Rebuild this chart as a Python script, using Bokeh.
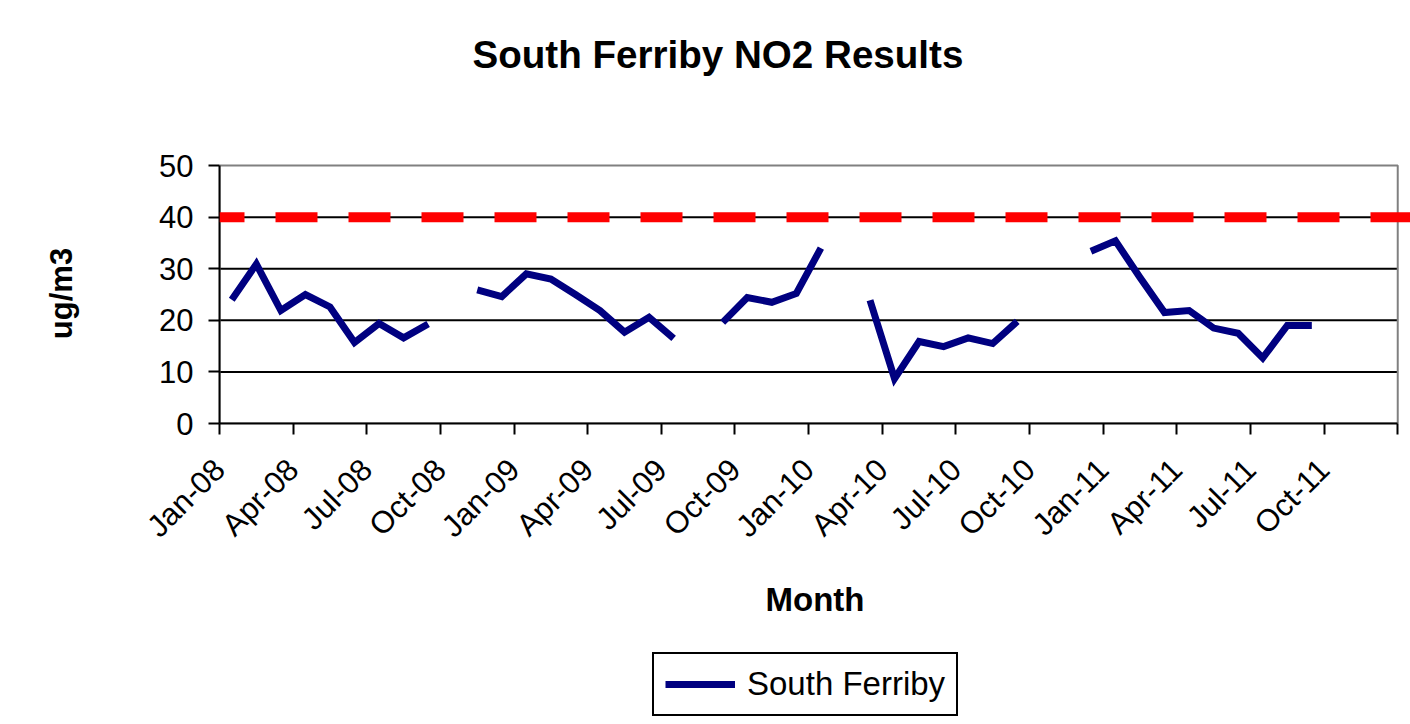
import math
from bokeh.plotting import figure
from bokeh.layouts import column
from bokeh.models import (Span, Legend, LegendItem, FixedTicker, Title, Range1d)
from bokeh.embed import file_html
from bokeh.resources import INLINE

nan = float("nan")

# ---- data -------------------------------------------------------------
months = ["Jan-08", "Feb-08", "Mar-08", "Apr-08", "May-08", "Jun-08",
          "Jul-08", "Aug-08", "Sep-08", "Oct-08", "Nov-08", "Dec-08",
          "Jan-09", "Feb-09", "Mar-09", "Apr-09", "May-09", "Jun-09",
          "Jul-09", "Aug-09", "Sep-09", "Oct-09", "Nov-09", "Dec-09",
          "Jan-10", "Feb-10", "Mar-10", "Apr-10", "May-10", "Jun-10",
          "Jul-10", "Aug-10", "Sep-10", "Oct-10", "Nov-10", "Dec-10",
          "Jan-11", "Feb-11", "Mar-11", "Apr-11", "May-11", "Jun-11",
          "Jul-11", "Aug-11", "Sep-11", "Oct-11", "Nov-11", "Dec-11"]

south_ferriby = [24.0, 30.9, 21.9, 25.0, 22.6, 15.7, 19.4, 16.6, 19.3, nan, 25.9, 24.6,
                 29.0, 28.0, 25.0, 21.9, 17.7, 20.6, 16.5, nan, 19.6, 24.4, 23.5, 25.2,
                 34.0, nan, 23.9, 8.7, 15.9, 14.9, 16.6, 15.5, 19.8, nan, nan, 33.4,
                 35.4, 28.3, 21.5, 21.9, 18.5, 17.5, 12.7, 19.0, 19.0, nan, nan, nan]

tick_labels = ["Jan-08", "Apr-08", "Jul-08", "Oct-08", "Jan-09", "Apr-09",
               "Jul-09", "Oct-09", "Jan-10", "Apr-10", "Jul-10", "Oct-10",
               "Jan-11", "Apr-11", "Jul-11", "Oct-11"]

series_name = "South Ferriby"
limit_value = 40
y_ticks = [0, 10, 20, 30, 40, 50]
y_max = 50

# ---- styling ------------------------------------------------------------
FONT = "Liberation Sans"
NAVY = "#000080"
n = len(months)
x_pos = [i + 0.5 for i in range(n)]

# ---- main chart -----------------------------------------------------------
p = figure(frame_width=1191, frame_height=260, output_backend="svg",
           toolbar_location=None,
           x_range=Range1d(0, 48.52), y_range=Range1d(0, 50.4),
           min_border_left=219, min_border_right=0, min_border_top=163,
           min_border_bottom=222)
p.background_fill_color = "white"
p.border_fill_color = "white"
p.outline_line_color = None
p.xgrid.visible = False
p.ygrid.visible = False

title = Title(text="South Ferriby NO2 Results", align="left", offset=253,
              text_font=FONT, text_font_size="38.6px", text_font_style="bold",
              text_color="black")
if "padding" in Title.properties():
    title.padding = dict(left=0, right=0, top=0, bottom=83)
p.add_layout(title, "above")

# horizontal grid lines and plot-area border
grid_vals = [v for v in y_ticks if 0 < v < y_max]
p.segment(x0=[0] * len(grid_vals), y0=grid_vals, x1=[n] * len(grid_vals), y1=grid_vals,
          line_color="black", line_width=2)
p.quad(left=[0], right=[n], bottom=[0], top=[y_max], fill_color=None,
       line_color="#808080", line_width=2)

# data line
r = p.line(x_pos, south_ferriby, line_color=NAVY, line_width=7,
           line_join="miter", line_cap="butt")

# limit line
p.add_layout(Span(location=limit_value, dimension="width", line_color="#FF0000",
                  line_width=10, line_dash="42 31", line_dash_offset=17))

# axes
xa = p.xaxis[0]
xa.ticker = FixedTicker(ticks=list(range(0, n + 1, 3)))
xa.major_label_overrides = {i * 3: lab for i, lab in enumerate(tick_labels)} | {n: ""}
xa.bounds = (0, n)
xa.major_label_orientation = math.pi / 4
xa.major_label_text_font = FONT
xa.major_label_text_font_size = "31px"
xa.major_label_text_color = "black"
xa.major_label_standoff = 30
xa.major_tick_out = 11
xa.major_tick_in = 0
xa.minor_tick_out = 0
xa.minor_tick_in = 0
xa.axis_line_width = 2
xa.axis_line_color = "black"
xa.major_tick_line_width = 2
xa.major_tick_line_color = "black"
xa.axis_label = "Month"
xa.axis_label_text_font = FONT
xa.axis_label_text_font_size = "33px"
xa.axis_label_text_font_style = "bold"
xa.axis_label_text_color = "black"
xa.axis_label_standoff = 22

ya = p.yaxis[0]
ya.bounds = (0, y_max)
ya.ticker = FixedTicker(ticks=y_ticks)
ya.major_label_text_font = FONT
ya.major_label_text_font_size = "31px"
ya.major_label_text_color = "black"
ya.major_label_standoff = 15
ya.major_tick_out = 11
ya.major_tick_in = 0
ya.minor_tick_out = 0
ya.minor_tick_in = 0
ya.axis_line_width = 2
ya.axis_line_color = "black"
ya.major_tick_line_width = 2
ya.major_tick_line_color = "black"
ya.axis_label = "ug/m3"
ya.axis_label_text_font = FONT
ya.axis_label_text_font_size = "31px"
ya.axis_label_text_font_style = "bold"
ya.axis_label_text_color = "black"
ya.axis_label_standoff = 77

# ---- legend strip (separate canvas below the chart) -------------------------
# the series is re-plotted here only as the legend's key; its values lie
# outside this strip's (0..1) range, so nothing but the legend is visible.
p2 = figure(width=1410, height=79, output_backend="svg", toolbar_location=None,
            x_axis_type=None, y_axis_type=None, min_border=0,
            x_range=Range1d(0, 1), y_range=Range1d(0, 1))
p2.outline_line_color = None
p2.background_fill_color = "white"
p2.border_fill_color = "white"
legend_key = p2.line(x_pos, south_ferriby, line_color=NAVY, line_width=7,
                     line_cap="butt")

legend = Legend(items=[LegendItem(label=series_name, renderers=[legend_key])],
                location=(433, 8), orientation="horizontal", margin=0,
                padding=11, spacing=0, label_standoff=12, glyph_width=70,
                glyph_height=36, label_text_font=FONT, label_text_font_size="33px",
                label_text_color="black", border_line_color="black",
                border_line_alpha=1.0, border_line_width=2,
                background_fill_color="white", background_fill_alpha=1.0)
p2.add_layout(legend)

layout = column(p, p2, spacing=0)
open("out.html", "w").write(file_html(layout, INLINE))
